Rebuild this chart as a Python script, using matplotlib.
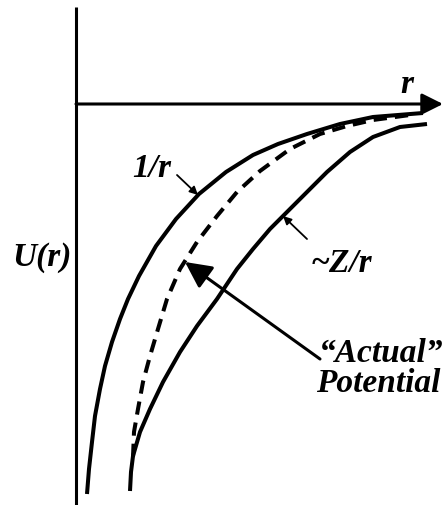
import matplotlib
matplotlib.use("Agg")
import matplotlib.pyplot as plt

# curves (pixel coords, y grows downward)
one_over_r_x = [87, 89, 92, 95, 100, 105, 112, 120, 128, 139, 156, 176,
                199, 226, 253, 278, 307, 340, 373, 423]
one_over_r_y = [495, 470, 443, 417, 390, 367, 343, 320, 300, 277, 247, 220,
                195, 173, 156, 145, 135, 125, 118, 114]

actual_x = [133, 134, 138, 143, 150, 158, 167, 180, 197, 217, 237, 260,
            290, 320, 347, 373, 410]
actual_y = [458, 433, 410, 383, 357, 330, 300, 270, 243, 217, 193, 172,
            150, 135, 127, 121, 116]

z_over_r_x = [130, 131, 133, 140, 150, 163, 180, 197, 217, 237, 253, 270,
              283, 307, 327, 350, 373, 400, 427]
z_over_r_y = [492, 473, 457, 433, 410, 383, 353, 327, 300, 270, 250, 230,
              217, 193, 173, 153, 138, 128, 125]

W, H = 443, 506
fig = plt.figure(figsize=(W / 100, H / 100), dpi=100)
ax = fig.add_axes([0, 0, 1, 1])
ax.set_xlim(0, W)
ax.set_ylim(H, 0)
ax.axis("off")

font = dict(family="Liberation Serif", weight="bold", style="italic", size=24)

# axes
ax.plot([76, 76], [8, 506], color="black", lw=2.2, solid_capstyle="butt")
ax.annotate("", xy=(443, 105), xytext=(76, 105),
            arrowprops=dict(arrowstyle="-|>", lw=2.2, color="black",
                            mutation_scale=32, shrinkA=0, shrinkB=0))

# curves
ax.plot(one_over_r_x, one_over_r_y, color="black", lw=2.9,
        solid_capstyle="butt", solid_joinstyle="round")
ax.plot(z_over_r_x, z_over_r_y, color="black", lw=2.9,
        solid_capstyle="butt", solid_joinstyle="round")
ax.plot(actual_x, actual_y, color="black", lw=2.9, dashes=(3.3, 2.0),
        dash_capstyle="butt")

# labels
ax.text(400, 93, "r", **font)
ax.text(12, 266, "U(r)", **font)
ax.text(132, 177, "1/r", **font)
ax.text(311, 272, "~Z/r", **font)
ax.text(319, 362, "\u201cActual\u201d", **font)
ax.text(316, 392, "Potential", **font)

# pointer arrows
small = dict(arrowstyle="-|>", lw=1.3, color="black", mutation_scale=12,
             shrinkA=0, shrinkB=0)
ax.annotate("", xy=(198, 196), xytext=(177, 176), arrowprops=small)
ax.annotate("", xy=(283, 217), xytext=(307, 240), arrowprops=small)
ax.annotate("", xy=(185, 263), xytext=(320, 360),
            arrowprops=dict(arrowstyle="-|>", lw=2.2, color="black",
                            mutation_scale=40, shrinkA=0, shrinkB=0))

fig.savefig("out.png", dpi=100)
